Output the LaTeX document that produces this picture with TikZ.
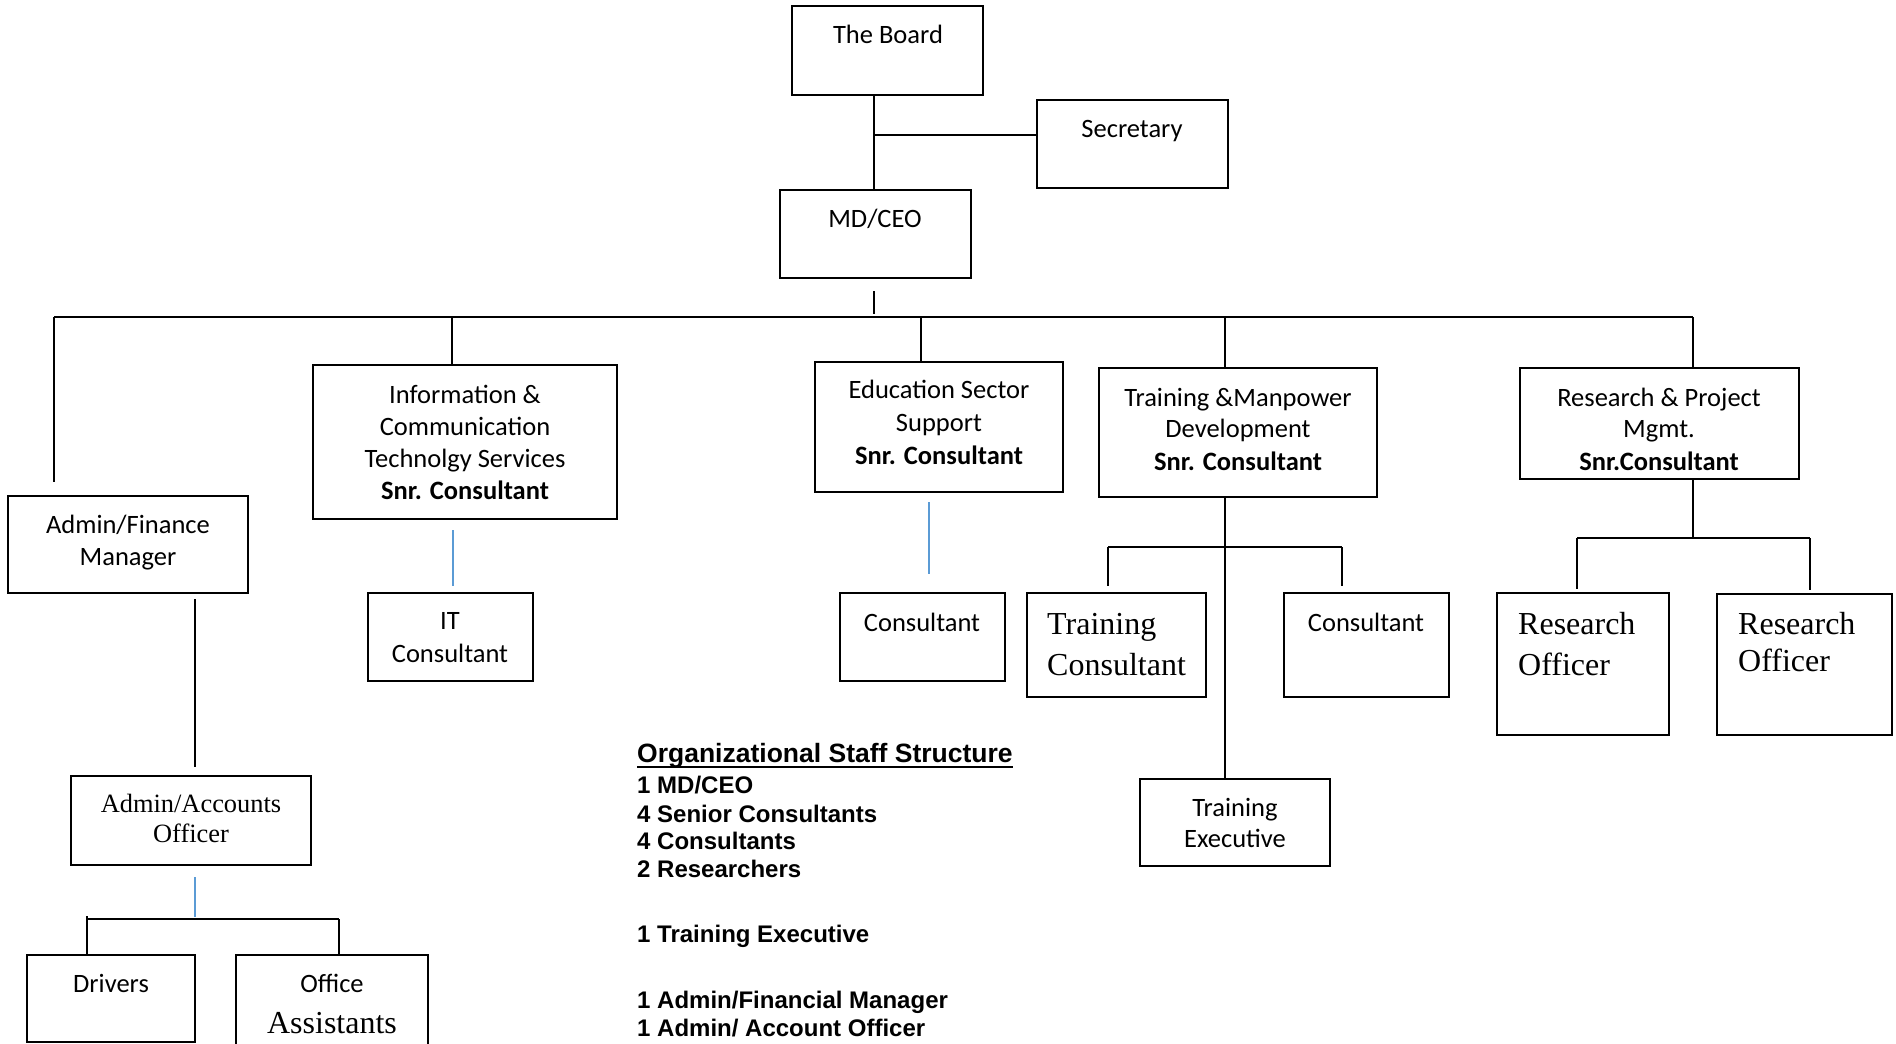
\documentclass[tikz,border=0pt]{standalone}
\usepackage{fontspec}
\setmainfont{Carlito}
\newfontfamily\calfont{Carlito}
\newfontfamily\timesfont{Liberation Serif}
\newfontfamily\arialfont{Liberation Sans}
\begin{document}
\begin{tikzpicture}[x=1pt,y=-1pt,
  box/.style={draw=black,line width=2.2pt,rectangle,inner sep=0pt},
  conn/.style={draw=black,line width=1.6pt},
  blueconn/.style={draw={rgb,255:red,91;green,155;blue,213},line width=1.3pt},
  ctxt/.style={anchor=base,inner sep=0pt,font=\calfont\fontsize{26.5}{32}\selectfont},
  btxt/.style={anchor=base,inner sep=0pt,font=\calfont\bfseries\fontsize{26.5}{32}\selectfont},
  stxt/.style={anchor=base west,inner sep=0pt,font=\timesfont\fontsize{32}{41}\selectfont},
  sctxt/.style={anchor=base,inner sep=0pt,font=\timesfont\fontsize{32}{41}\selectfont},
  smtxt/.style={anchor=base,inner sep=0pt,font=\timesfont\fontsize{26.4}{30}\selectfont},
  ltxt/.style={anchor=base west,inner sep=0pt,font=\arialfont\bfseries\fontsize{24}{28}\selectfont},
  ttxt/.style={anchor=base west,inner sep=0pt,font=\arialfont\bfseries\fontsize{26.5}{30}\selectfont}
]
\useasboundingbox (0,0) rectangle (1896,1044);
\clip (0,0) rectangle (1896,1044);

% boxes
\newcommand\mybox[5]{\node[box,minimum width={#4-#2},minimum height={#5-#3}] (#1) at ({(#2+#4)/2},{(#3+#5)/2}) {};}
\mybox{board}{792}{6}{983}{95}
\mybox{secretary}{1037}{100}{1228}{188}
\mybox{mdceo}{780}{190}{971}{278}
\mybox{ict}{313}{365}{617}{519}
\mybox{edu}{815}{362}{1063}{492}
\mybox{train}{1099}{368}{1377}{497}
\mybox{research}{1520}{368}{1799}{479}
\mybox{adminfin}{8}{496}{248}{593}
\mybox{itcons}{368}{593}{533}{681}
\mybox{educons}{840}{593}{1005}{681}
\mybox{traincons}{1027}{593}{1206}{697}
\mybox{trcons}{1284}{593}{1449}{697}
\mybox{trexec}{1140}{779}{1330}{866}
\mybox{ro1}{1497}{593}{1669}{735}
\mybox{ro2}{1717}{594}{1892}{735}
\mybox{adminacc}{71}{776}{311}{865}
\mybox{drivers}{27}{955}{195}{1042}
\mybox{office}{236}{955}{428}{1060}

% texts
\node[ctxt] (t1) at (888,43) {The Board};
\node[ctxt] (t2) at (1132,137) {Secretary};
\node[ctxt] (t3) at (875,227) {MD/CEO};
\node[ctxt] (t4) at (465,403) {Information \&};
\node[ctxt] (t5) at (465,435) {Communication};
\node[ctxt] (t6) at (465,467) {Technolgy Services};
\node[btxt] (t7) at (465,499) {Snr. Consultant};
\node[ctxt] (t8) at (939,398) {Education Sector};
\node[ctxt] (t9) at (939,431) {Support};
\node[btxt] (t10) at (939,464) {Snr. Consultant};
\node[ctxt] (t11) at (1238,406) {Training \&Manpower};
\node[ctxt] (t12) at (1238,437) {Development};
\node[btxt] (t13) at (1238,470) {Snr. Consultant};
\node[ctxt] (t14) at (1659,406) {Research \& Project};
\node[ctxt] (t15) at (1659,437) {Mgmt.};
\node[btxt] (t16) at (1659,470) {Snr.Consultant};
\node[ctxt] (t17) at (128,533) {Admin/Finance};
\node[ctxt] (t18) at (128,565) {Manager};
\node[ctxt] (t19) at (450,629) {IT};
\node[ctxt] (t20) at (450,662) {Consultant};
\node[ctxt] (t21) at (922,631) {Consultant};
\node[ctxt] (t22) at (1366,631) {Consultant};
\node[stxt] (t23) at (1047,634) {Training};
\node[stxt] (t24) at (1047,675) {Consultant};
\node[ctxt] (t25) at (1235,816) {Training};
\node[ctxt] (t26) at (1235,847) {Executive};
\node[stxt] (t27) at (1518,634) {Research};
\node[stxt] (t28) at (1518,675) {Officer};
\node[stxt] (t29) at (1738,634) {Research};
\node[stxt] (t30) at (1738,671) {Officer};
\node[smtxt] (t31) at (191,812) {Admin/Accounts};
\node[smtxt] (t32) at (191,842) {Officer};
\node[ctxt] (t33) at (111,992) {Drivers};
\node[ctxt] (t34) at (332,992) {Office};
\node[sctxt] (t35) at (332,1033) {Assistants};

% staff list
\node[ttxt] (l0) at (637,762) {Organizational Staff Structure};
\draw[line width=2.2pt] ([yshift=-5pt]l0.base west) -- ([yshift=-5pt]l0.base east);
\node[ltxt] (l1) at (637,793) {1 MD/CEO};
\node[ltxt] (l2) at (637,822) {4 Senior Consultants};
\node[ltxt] (l3) at (637,849) {4 Consultants};
\node[ltxt] (l4) at (637,877) {2 Researchers};
\node[ltxt] (l5) at (637,942) {1 Training Executive};
\node[ltxt] (l6) at (637,1008) {1 Admin/Financial Manager};
\node[ltxt] (l7) at (637,1036) {1 Admin/ Account Officer};

% connectors
\coordinate (jsec) at (874,135);
\draw[conn] (mdceo.north -| jsec) -- (board.south -| jsec);
\draw[conn] (jsec) -- (jsec -| secretary.west);
\coordinate (mtop) at (874,291);
\coordinate (mbot) at (874,314);
\draw[conn] (mtop) -- (mbot);
\coordinate (busL) at (54,317);
\coordinate (busR) at (1693,317);
\draw[conn] (busL) -- (busR);
\coordinate (afend) at (54,482);
\draw[conn] (busL) -- (afend);
\draw[conn] (ict.north -| 452,0) -- (452,317);
\draw[conn] (edu.north -| 921,0) -- (921,317);
\draw[conn] (train.north -| 1225,0) -- (1225,317);
\draw[conn] (research.north -| busR) -- (busR);

% ICT / Education blue links
\coordinate (ictb1) at (453,530);
\coordinate (ictb2) at (453,586);
\draw[blueconn] (ictb1) -- (ictb2);
\coordinate (edub1) at (929,502);
\coordinate (edub2) at (929,574);
\draw[blueconn] (edub1) -- (edub2);

% Training subtree
\coordinate (tbus) at (1225,547);
\draw[conn] (train.south -| tbus) -- (trexec.north -| tbus);
\coordinate (tbusL) at (1108,547);
\coordinate (tbusR) at (1342,547);
\draw[conn] (tbusL) -- (tbusR);
\draw[conn] (tbusL) -- (1108,586);
\draw[conn] (tbusR) -- (1342,586);

% Research subtree
\coordinate (rbus) at (1693,538);
\draw[conn] (research.south -| rbus) -- (rbus);
\coordinate (rbusL) at (1577,538);
\coordinate (rbusR) at (1810,538);
\draw[conn] (rbusL) -- (rbusR);
\draw[conn] (rbusL) -- (1577,589);
\draw[conn] (rbusR) -- (1810,590);

% Admin subtree
\coordinate (af1) at (195,599);
\coordinate (af2) at (195,767);
\draw[conn] (af1) -- (af2);
\coordinate (ab1) at (195,877);
\coordinate (ab2) at (195,917);
\draw[blueconn] (ab1) -- (ab2);
\coordinate (abusL) at (87,919);
\coordinate (abusR) at (339,919);
\draw[conn] (abusL) -- (abusR);
\draw[conn] (87,916) -- (drivers.north -| abusL);
\draw[conn] (abusR) -- (office.north -| abusR);
\end{tikzpicture}
\end{document}
